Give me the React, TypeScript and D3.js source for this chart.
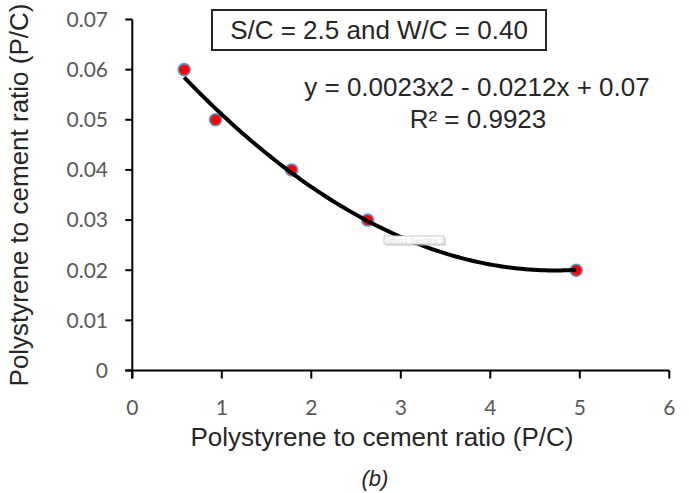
import React from "react";
import * as d3 from "d3";

const pcRatio = [0.58, 0.93, 1.78, 2.63, 4.96];
const pcValue = [0.06, 0.05, 0.04, 0.03, 0.02];
const xTicks = [0, 1, 2, 3, 4, 5, 6];
const yTicks = [0, 0.01, 0.02, 0.03, 0.04, 0.05, 0.06, 0.07];
const titleText = "S/C = 2.5 and W/C = 0.40";
const equationText = "y = 0.0023x2 - 0.0212x + 0.07";
const r2Text = "R² = 0.9923";
const xLabel = "Polystyrene to cement ratio (P/C)";
const yLabel = "Polystyrene to cement ratio (P/C)";
const caption = "(b)";
const tooltipText = "Series1 Trendline 1";

function quadFit(xs: number[], ys: number[]) {
  // least squares y = a x^2 + b x + c
  const S = (f: (x: number, y: number) => number) =>
    xs.reduce((s, x, i) => s + f(x, ys[i]), 0);
  const n = xs.length;
  const sx = S((x) => x), sx2 = S((x) => x * x), sx3 = S((x) => x ** 3), sx4 = S((x) => x ** 4);
  const sy = S((_, y) => y), sxy = S((x, y) => x * y), sx2y = S((x, y) => x * x * y);
  const M = [
    [sx4, sx3, sx2, sx2y],
    [sx3, sx2, sx, sxy],
    [sx2, sx, n, sy],
  ];
  for (let i = 0; i < 3; i++) {
    let p = i;
    for (let r = i + 1; r < 3; r++) if (Math.abs(M[r][i]) > Math.abs(M[p][i])) p = r;
    [M[i], M[p]] = [M[p], M[i]];
    for (let r = 0; r < 3; r++) {
      if (r === i) continue;
      const f = M[r][i] / M[i][i];
      for (let c = i; c < 4; c++) M[r][c] -= f * M[i][c];
    }
  }
  return [M[0][3] / M[0][0], M[1][3] / M[1][1], M[2][3] / M[2][2]];
}

export default function App() {
  const W = 689, H = 493;
  const x = d3.scaleLinear().domain([0, 6]).range([132.3, 669.3]);
  const y = d3.scaleLinear().domain([0, 0.07]).range([370.5, 19.5]);
  const [a, b, c] = quadFit(pcRatio, pcValue);
  const x0 = d3.min(pcRatio)!, x1 = d3.max(pcRatio)!;
  const curvePts = d3.range(0, 101).map((i) => {
    const xv = x0 + ((x1 - x0) * i) / 100;
    return [xv, a * xv * xv + b * xv + c] as [number, number];
  });
  const line = d3.line<[number, number]>().x((d) => x(d[0])).y((d) => y(d[1]));
  const axisColor = "#000";
  const tickFont = "Lato, 'Open Sans', sans-serif";
  const mainFont = "'Liberation Sans', Arial, sans-serif";
  return (
    <svg width={W} height={H} style={{ position: "absolute", left: 0, top: 0, background: "#fff" }}>
      <rect x={0} y={0} width={W} height={H} fill="#fff" />
      {/* axes */}
      <line x1={x(0)} x2={x(0)} y1={y(0.07)} y2={y(0) + 8} stroke={axisColor} strokeWidth={2} />
      <line x1={x(0) - 7} x2={x(6)} y1={y(0)} y2={y(0)} stroke={axisColor} strokeWidth={2} />
      {yTicks.map((t) => (
        <g key={"y" + t}>
          <line x1={x(0) - 7} x2={x(0)} y1={y(t)} y2={y(t)} stroke={axisColor} strokeWidth={2} />
          <text x={108} y={y(t)} dy="0.35em" textAnchor="end" fontFamily={tickFont} fontSize={21} fill="#595959">
            {t === 0 ? "0" : d3.format(".2f")(t)}
          </text>
        </g>
      ))}
      {xTicks.map((t) => (
        <g key={"x" + t}>
          <line x1={x(t)} x2={x(t)} y1={y(0)} y2={y(0) + 8} stroke={axisColor} strokeWidth={2} />
          <text x={x(t)} y={415} textAnchor="middle" fontFamily={tickFont} fontSize={21} fill="#595959">
            {String(t)}
          </text>
        </g>
      ))}
      {/* markers */}
      {pcRatio.map((xv, i) => (
        <circle key={"m" + i} cx={x(xv)} cy={y(pcValue[i])} r={6} fill="#FF0000" stroke="#5B9BD5" strokeWidth={1.6} />
      ))}
      {/* trendline */}
      <path d={line(curvePts) || ""} fill="none" stroke="#000" strokeWidth={4} />
      {/* tooltip artifact */}
      <rect x={386} y={238} width={60} height={8} fill="#bbb" opacity={0.5} />
      <rect x={384} y={236} width={60} height={8} fill="#fff" stroke="#c8c8c8" strokeWidth={1} />
      <text x={414} y={243} textAnchor="middle" fontFamily={mainFont} fontSize={7} fill="#e0e0e0">
        {tooltipText}
      </text>
      {/* title box */}
      <rect x={212} y={10} width={334} height={40} fill="#fff" stroke="#262626" strokeWidth={2} />
      <text x={379} y={39} textAnchor="middle" fontFamily={mainFont} fontSize={26} fill="#262626">
        {titleText}
      </text>
      {/* equation */}
      <text x={477} y={96} textAnchor="middle" fontFamily={mainFont} fontSize={26} fill="#262626">
        {equationText}
      </text>
      <text x={478} y={128} textAnchor="middle" fontFamily={mainFont} fontSize={26} fill="#262626">
        {r2Text}
      </text>
      {/* axis titles */}
      <text x={382} y={446} textAnchor="middle" fontFamily={mainFont} fontSize={26} fill="#262626">
        {xLabel}
      </text>
      <text transform={`translate(28,195) rotate(-90)`} textAnchor="middle" fontFamily={mainFont} fontSize={26} fill="#262626">
        {yLabel}
      </text>
      <text x={375} y={486} textAnchor="middle" fontFamily={mainFont} fontSize={22} fontStyle="italic" fill="#262626">
        {caption}
      </text>
    </svg>
  );
}
